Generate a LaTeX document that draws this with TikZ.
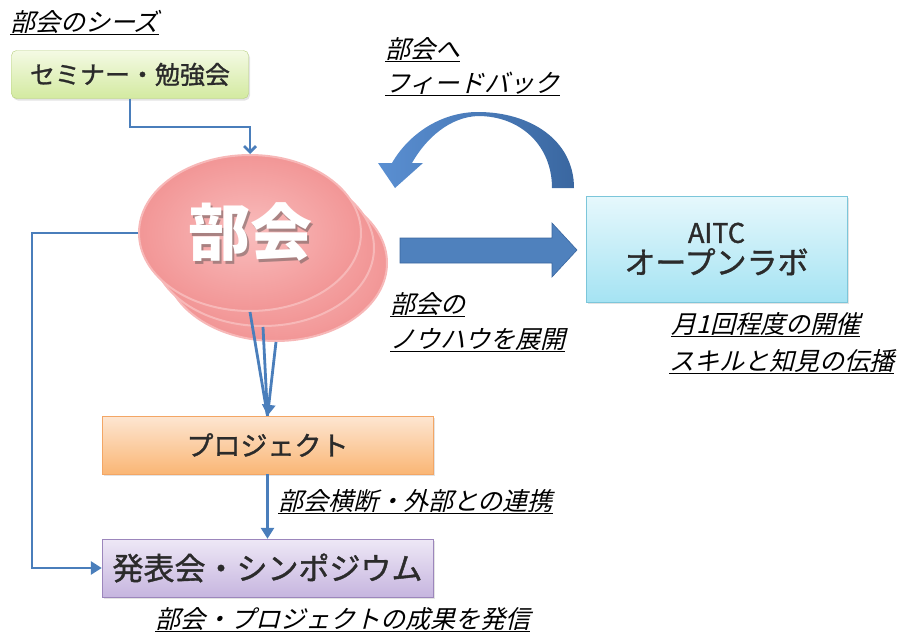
\documentclass[tikz,border=0pt]{standalone}
\usepackage{fontspec}
\setmainfont{Noto Sans CJK JP}
\newfontfamily\jpit[FakeSlant=0.25]{Noto Sans CJK JP}
\newfontfamily\jpbox[FakeBold=1.2]{Noto Sans CJK JP}
\usetikzlibrary{shapes.geometric,shadows,arrows.meta}
\definecolor{lineblue}{HTML}{4A7EBB}
\definecolor{arrowblue}{HTML}{4F81BD}
\definecolor{arrowlight}{HTML}{5A8FD2}
\definecolor{arrowdark}{HTML}{3A67A0}
\definecolor{textgray}{HTML}{2B2B2B}
\definecolor{greenedge}{HTML}{B5CF7E}
\definecolor{greentop}{HTML}{F4FAE4}
\definecolor{greenbot}{HTML}{D3EAA0}
\definecolor{orangeedge}{HTML}{F3A665}
\definecolor{orangetop}{HTML}{FDE6D2}
\definecolor{orangebot}{HTML}{FAB675}
\definecolor{purpleedge}{HTML}{9C86BC}
\definecolor{purpletop}{HTML}{EEE8F6}
\definecolor{purplebot}{HTML}{C6B5DF}
\definecolor{cyanedge}{HTML}{7CC6DA}
\definecolor{cyantop}{HTML}{E6F8FC}
\definecolor{cyanbot}{HTML}{A5E3F3}
\definecolor{pinkedge}{HTML}{F7B8B8}
\definecolor{pinkin}{HTML}{F9BDBD}
\definecolor{pinkout}{HTML}{F29696}
\begin{document}
\begin{tikzpicture}[x=1pt,y=-1pt,
  box/.style={rectangle,inner sep=0pt,text=textgray,
    drop shadow={opacity=0.22,shadow xshift=1.5pt,shadow yshift=-2pt}},
  greenbox/.style={box,draw=greenedge,top color=greentop,bottom color=greenbot,rounded corners=5pt},
  orangebox/.style={box,draw=orangeedge,top color=orangetop,bottom color=orangebot},
  purplebox/.style={box,draw=purpleedge,top color=purpletop,bottom color=purplebot},
  cyanbox/.style={box,draw=cyanedge,top color=cyantop,bottom color=cyanbot},
  blob/.style={ellipse,inner sep=0pt,minimum width=222pt,minimum height=156pt,
    draw=pinkedge,line width=2pt,shading=radial,inner color=pinkin,outer color=pinkout},
  conn/.style={draw=lineblue,line width=2.8pt},
  tip/.style={-{Triangle[length=11pt,width=13pt]}},
  barb/.style={-{Straight Barb[length=6pt,width=12pt]}},
  lbl/.style={anchor=base west,inner sep=0pt,font=\jpit\fontsize{25}{30}\selectfont,text=black}
]
\useasboundingbox (0,0) rectangle (908,637);
% labels
\node[lbl] (seeds) at (10,31) {\underline{部会のシーズ}};
\node[lbl] (fb1) at (385,58) {\underline{部会へ}};
\node[lbl] (fb2) at (385,92) {\underline{フィードバック}};
\node[lbl] (kn1) at (390,313) {\underline{部会の}};
\node[lbl] (kn2) at (390,348) {\underline{ノウハウを展開}};
\node[lbl] (op1) at (671,333) {\underline{月1回程度の開催}};
\node[lbl] (op2) at (669,370) {\underline{スキルと知見の伝播}};
\node[lbl] (cross) at (278,510) {\underline{部会横断・外部との連携}};
\node[lbl] (result) at (155,628) {\underline{部会・プロジェクトの成果を発信}};

% boxes
\node[greenbox,minimum width=237pt,minimum height=48pt,font=\jpbox\fontsize{25}{28}\selectfont] (sem) at (130,74.5) {セミナー・勉強会};
\node[orangebox,minimum width=331pt,minimum height=58pt,font=\jpbox\fontsize{27}{30}\selectfont] (proj) at (267.5,445) {プロジェクト};
\node[purplebox,minimum width=331pt,minimum height=58pt,font=\jpbox\fontsize{31}{34}\selectfont] (hap) at (267.5,568) {発表会・シンポジウム};
\node[cyanbox,minimum width=261pt,minimum height=106pt,align=center,font=\jpbox] (aitc) at (716.5,249)
  {{\fontsize{27}{30}\selectfont AITC}\\[4pt]{\fontsize{31}{34}\selectfont オープンラボ}};

% ellipse stack
\node[blob] (b3) at (276,263) {};
\node[blob] (b2) at (263,248) {};
\node[blob] (bukai) at (250,233) {};
\node[text=black!70,opacity=0.45,font=\bfseries\fontsize{62}{62}\selectfont] (bsh) at (252.5,235.5) {部会};
\node[text=white,font=\bfseries\fontsize{62}{62}\selectfont] (btx) at (250,232) {部会};

% connectors
\coordinate (k1) at (250,127);
\draw[conn,barb] (sem.south) |- (k1) -- (bukai.north);
\coordinate (k2) at (32,233);
\draw[conn,tip] (bukai.west) -- (k2) |- (hap.west);
\draw[conn] (bukai.south) -- (proj.north);
\draw[conn] (b2.south) -- (proj.north);
\draw[conn,tip] (b3.south) -- (proj.north);
\draw[conn,tip] (proj.south) -- (hap.north);

% block arrow to AITC
\fill[arrowblue,draw=arrowdark,line width=0.6pt]
  (400,238) -- (552,238) -- (552,223) -- (577,250) -- (552,277) -- (552,263) -- (400,263) -- cycle;

% curved feedback arrow
\shade[left color=arrowlight,right color=arrowdark]
  (574,188) .. controls (574,140) and (530,112) .. (478,112)
  .. controls (440,112) and (408,135) .. (392,163)
  -- (378,163) -- (395,188) -- (423,163) -- (412,163)
  .. controls (426,138) and (450,117) .. (478,116)
  .. controls (520,116) and (552,145) .. (552,188) -- cycle;
\end{tikzpicture}
\end{document}
